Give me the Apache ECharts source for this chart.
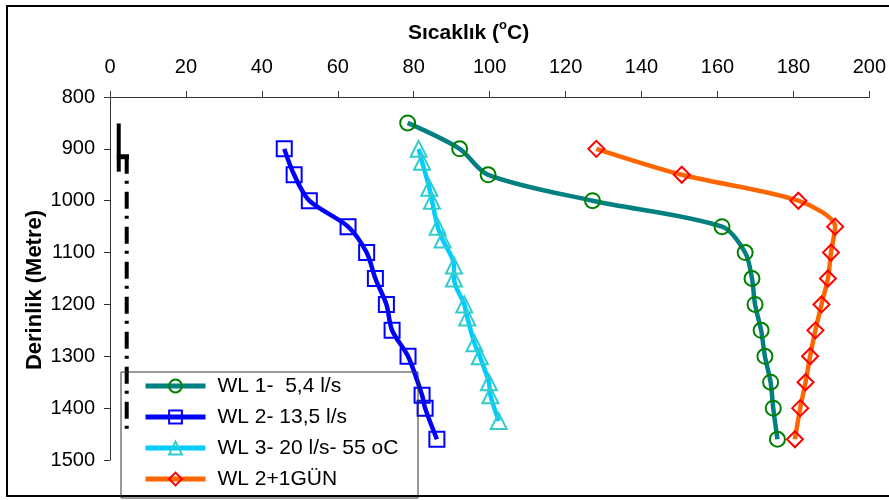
<!DOCTYPE html>
<html>
<head>
<meta charset="utf-8">
<script src="https://cdn.jsdelivr.net/npm/echarts@6/dist/echarts.min.js"></script>
<style>
html,body{margin:0;padding:0;background:#fff;}
#chart{width:889px;height:500px;}
</style>
</head>
<body>
<div id="chart"></div>
<script>
// ---- data (temperature °C, depth m) ----
const wl1Temp  = [78.4, 92.1, 99.6, 127.1, 161.2, 167.3, 169.1, 169.9, 171.5, 172.5, 174.0, 174.7, 175.8];
const wl1Depth = [850, 900, 950, 1000, 1050, 1100, 1150, 1200, 1250, 1300, 1350, 1400, 1460];

const wl2Temp  = [45.9, 48.5, 52.5, 62.7, 67.6, 69.9, 72.8, 74.3, 78.5, 82.2, 83.0, 86.1];
const wl2Depth = [900, 950, 1000, 1050, 1100, 1150, 1200, 1250, 1300, 1375, 1400, 1460];

const wl3Temp  = [81.3, 82.2, 84.1, 84.8, 86.3, 87.6, 90.6, 90.6, 93.3, 94.1, 96.0, 97.4, 99.8, 100.2, 102.4];
const wl3Depth = [900, 925, 975, 1000, 1050, 1075, 1125, 1150, 1200, 1225, 1275, 1300, 1350, 1375, 1425];

const wl4Temp  = [128.1, 150.6, 181.3, 191.0, 189.9, 189.1, 187.4, 185.8, 184.4, 183.2, 181.8, 180.4];
const wl4Depth = [900, 950, 1000, 1050, 1100, 1150, 1200, 1250, 1300, 1350, 1400, 1460];

// well casing sketch (black)
const casingTemp  = [2.3, 2.3];
const casingDepth = [851, 944];
const shoeTemp    = [1.8, 5.0];
const shoeDepth   = [915, 915];
const linerTemp   = [4.4, 4.4];
const linerDepth  = [915, 1440];

const seriesNames = ['WL 1-  5,4 l/s', 'WL 2- 13,5 l/s', 'WL 3- 20 l/s- 55 oC', 'WL 2+1GÜN'];
const xTicks = {min: 0, max: 200, interval: 20};
const yTicks = {min: 800, max: 1500, interval: 100};

function pairs(xs, ys) { return xs.map((x, i) => [x, ys[i]]); }

const FONT = "'Liberation Sans', Arial, sans-serif";

function wlSeries(name, xs, ys, lineColor, symbol, markColor, size) {
  return {
    name: name, type: 'line', data: pairs(xs, ys),
    smooth: 0.3,
    symbol: symbol, symbolSize: size,
    lineStyle: {color: lineColor, width: 4.5},
    itemStyle: {color: 'rgba(255,255,255,0)', borderColor: markColor, borderWidth: 2},
    emphasis: {disabled: true},
    z: 3
  };
}
function blackSeries(xs, ys, type, width) {
  return {
    type: 'line', data: pairs(xs, ys), symbol: 'none', silent: true,
    lineStyle: {color: '#000', width: width, type: type, cap: 'butt'},
    z: 6
  };
}

const chart = echarts.init(document.getElementById('chart'), null, {renderer: 'canvas'});
chart.setOption({
  animation: false,
  backgroundColor: '#fff',
  grid: {left: 110, right: 14, top: 97, bottom: 40, containLabel: false},
  title: {
    text: '{a|Sıcaklık (}{b|o}{a|C)}',
    left: 403, top: 14,
    textStyle: {
      rich: {
        a: {fontSize: 21, fontWeight: 'bold', fontFamily: FONT, color: '#000'},
        b: {fontSize: 13, fontWeight: 'bold', fontFamily: FONT, color: '#000', padding: [0, 0, 16, 0]}
      }
    }
  },
  xAxis: {
    type: 'value', position: 'top',
    min: xTicks.min, max: xTicks.max, interval: xTicks.interval,
    axisLine: {show: true, lineStyle: {color: '#333', width: 1}},
    axisTick: {show: true, inside: false, length: 6, lineStyle: {color: '#333'}},
    splitLine: {show: false},
    axisLabel: {fontSize: 20, color: '#000', fontFamily: FONT, margin: 20, formatter: v => String(v)}
  },
  yAxis: {
    type: 'value', inverse: true,
    min: yTicks.min, max: yTicks.max, interval: yTicks.interval,
    axisLine: {show: true, lineStyle: {color: '#333', width: 1}},
    axisTick: {show: true, inside: false, length: 6, lineStyle: {color: '#333'}},
    splitLine: {show: false},
    axisLabel: {fontSize: 20, color: '#000', fontFamily: FONT, margin: 15, formatter: v => String(v)}
  },
  legend: {
    data: seriesNames,
    orient: 'vertical', left: 143, top: 375,
    itemWidth: 60, itemHeight: 16, itemGap: 9,
    padding: 0,
    lineStyle: {width: 5},
    textStyle: {fontSize: 21, lineHeight: 22, color: '#000', fontFamily: FONT, padding: [0, 0, 0, 7]},
    selectedMode: false,
    z: 20
  },
  graphic: [
    {type: 'rect', shape: {x: 7, y: 6, width: 900, height: 490}, style: {fill: 'none', stroke: '#000', lineWidth: 2}, z: 1, silent: true},
    {type: 'rect', shape: {x: 121, y: 372, width: 297, height: 126}, style: {fill: 'none', stroke: '#333', lineWidth: 1}, z: 10, silent: true},
    {type: 'text', x: 35, y: 290, rotation: Math.PI / 2,
      style: {text: 'Derinlik (Metre)', fontSize: 22, fontWeight: 'bold', fontFamily: FONT, fill: '#000', align: 'center', verticalAlign: 'middle'},
      z: 10, silent: true}
  ],
  series: [
    wlSeries(seriesNames[0], wl1Temp, wl1Depth, '#008080', 'circle', '#008000', 15),
    wlSeries(seriesNames[1], wl2Temp, wl2Depth, '#0000FF', 'rect', '#0000FF', 15),
    wlSeries(seriesNames[2], wl3Temp, wl3Depth, '#00CCFF', 'triangle', '#33CCCC', 16),
    wlSeries(seriesNames[3], wl4Temp, wl4Depth, '#FF6600', 'diamond', '#FF0000', 16),
    blackSeries(casingTemp, casingDepth, 'solid', 4),
    blackSeries(shoeTemp, shoeDepth, 'solid', 5),
    blackSeries(linerTemp, linerDepth, [17, 7, 3, 8], 4)
  ]
});
</script>
</body>
</html>
